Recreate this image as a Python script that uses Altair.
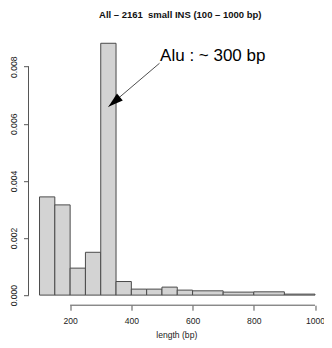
import altair as alt
import pandas as pd

# ---- data (density scale) ----
bin_left = [100, 150, 200, 250, 300, 350, 400, 450, 500, 550, 600, 700, 800, 900]
bin_right = [150, 200, 250, 300, 350, 400, 450, 500, 550, 600, 700, 800, 900, 1000]
density = [0.00344, 0.00316, 0.000945, 0.0015, 0.00882, 0.000476, 0.00021,
           0.00021, 0.00028, 0.000175, 0.00015, 0.000105, 0.000115, 0.000035]

x_ticks = [200, 400, 600, 800, 1000]
y_ticks = [0.0, 0.002, 0.004, 0.006, 0.008]

title_text = "All \u2013 2161\u00a0 small INS (100 \u2013 1000 bp)"
x_title = "length (bp)"
annotation_text = "Alu : ~ 300 bp"
annotation_pos = [494, 0.0082]
arrow_start = [492, 0.00812]
arrow_tip = [325, 0.0066]

FONT = "Liberation Sans"
W, H = 295.5, 272

bars = pd.DataFrame({"left": bin_left, "right": bin_right, "density": density})
xs = alt.Scale(domain=[64, 1029.4], nice=False, zero=False)
ys = alt.Scale(domain=[-0.000353, 0.009173], nice=False, zero=False)

x_axis = alt.Axis(values=x_ticks, domain=False, grid=False, tickSize=5,
                  tickColor="#555", labelPadding=6, labelFontSize=8.6,
                  labelFont=FONT, labelColor="#222", titleFont=FONT,
                  titleFontSize=8.6, titleFontWeight="normal",
                  titleColor="#222", titlePadding=6, format="d")
y_axis = alt.Axis(values=y_ticks, domain=False, grid=False, tickSize=5,
                  tickColor="#555", labelAngle=-90, labelAlign="center",
                  labelBaseline="alphabetic", labelPadding=7,
                  labelFontSize=8.6, labelFont=FONT, labelColor="#222",
                  format=".3f")


def X(field):
    return alt.X(field, scale=xs, title=x_title, axis=x_axis)


def Y(field):
    return alt.Y(field, scale=ys, title="", axis=y_axis)


hist = alt.Chart(bars).mark_rect(
    fill="#d3d3d3", stroke="#4a4a4a", strokeWidth=1
).encode(x=X("left:Q"), x2="right:Q", y=Y("density:Q"), y2=alt.datum(0))

xaxis_line = alt.Chart(pd.DataFrame({"a": [x_ticks[0]], "b": [x_ticks[-1]]})).mark_rule(
    color="#555", strokeWidth=1
).encode(x=X("a:Q"), x2="b:Q", y=alt.value(H))

yaxis_line = alt.Chart(pd.DataFrame({"a": [y_ticks[0]], "b": [y_ticks[-1]]})).mark_rule(
    color="#555", strokeWidth=1
).encode(y=Y("a:Q"), y2="b:Q", x=alt.value(0))

ann = alt.Chart(pd.DataFrame({"x": [annotation_pos[0]], "y": [annotation_pos[1]],
                              "t": [annotation_text]})).mark_text(
    align="left", baseline="alphabetic", fontSize=17, font=FONT, color="#000"
).encode(x=X("x:Q"), y=Y("y:Q"), text="t:N")

arrow_line = alt.Chart(pd.DataFrame({"x": [arrow_start[0]], "y": [arrow_start[1]],
                                     "x2": [arrow_tip[0]], "y2": [arrow_tip[1]]})).mark_rule(
    color="#222", strokeWidth=0.8
).encode(x=X("x:Q"), y=Y("y:Q"), x2="x2:Q", y2="y2:Q")

arrow_head = alt.Chart(pd.DataFrame({"x": [arrow_tip[0]], "y": [arrow_tip[1]]})).mark_point(
    shape="M0,0 L-0.3,1 L0.3,1 Z", size=900, filled=True, color="#000",
    opacity=1, strokeWidth=0, angle=230
).encode(x=X("x:Q"), y=Y("y:Q"))

chart = alt.layer(hist, xaxis_line, yaxis_line, arrow_line, arrow_head, ann).properties(
    width=W, height=H,
    title=alt.TitleParams(title_text, font=FONT, fontSize=9.5, fontWeight="bold",
                          color="#111", anchor="middle", offset=14, dx=4),
    autosize=alt.AutoSizeParams(type="none"),
    padding={"left": 20.5, "top": 25.2, "right": 0, "bottom": 34.5},
    background="white",
).configure_view(strokeWidth=0)

chart.save("out.html", embed_options={"renderer": "svg", "actions": False})
